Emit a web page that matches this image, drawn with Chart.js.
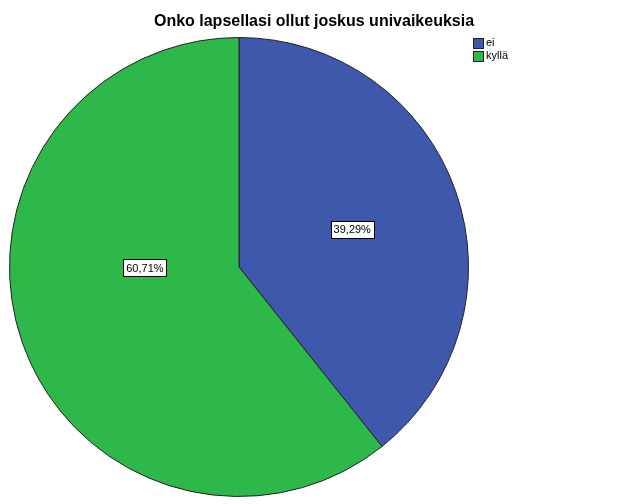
<!DOCTYPE html>
<html>
<head>
<meta charset="utf-8">
<script src="https://cdn.jsdelivr.net/npm/chart.js@4"></script>
<style>
  html, body { margin: 0; padding: 0; background: #fff; }
  #wrap { width: 629px; height: 504px; }
</style>
</head>
<body>
<div id="wrap"><canvas id="pieChart" width="629" height="504"></canvas></div>
<script>
const chartTitle = "Onko lapsellasi ollut joskus univaikeuksia";
const categories = ["ei", "kyllä"];
const percentages = [39.29, 60.71];
const sliceColors = ["#3e58ac", "#2fb84a"];

// where SPSS put the value boxes: angle (deg, 0 = right) and fraction of radius
const labelSpots = [
    { angle: -18.4, dist: 0.52 },
    { angle: 179.4, dist: 0.41 }
];

const fmt = v => v.toFixed(2).replace(".", ",") + "%";

const decorations = {
    id: "decorations",
    afterDraw(chart) {
        const ctx = chart.ctx;
        ctx.save();

        // title
        ctx.fillStyle = "#000";
        ctx.font = "bold 16px 'Liberation Sans', Arial, sans-serif";
        ctx.textAlign = "center";
        ctx.textBaseline = "middle";
        ctx.fillText(chartTitle, 314, 22);

        // legend
        ctx.font = "11px 'Liberation Sans', Arial, sans-serif";
        ctx.textAlign = "left";
        categories.forEach((name, i) => {
            const y = 38 + i * 13;
            ctx.fillStyle = sliceColors[i];
            ctx.fillRect(473, y, 10, 10);
            ctx.strokeStyle = "#222";
            ctx.lineWidth = 1;
            ctx.strokeRect(473.5, y + 0.5, 10, 10);
            ctx.fillStyle = "#000";
            ctx.fillText(name, 486, y + 5);
        });

        // value boxes
        const arcs = chart.getDatasetMeta(0).data;
        ctx.font = "11px 'Liberation Sans', Arial, sans-serif";
        ctx.textAlign = "center";
        arcs.forEach((arc, i) => {
            const a = labelSpots[i].angle * Math.PI / 180;
            const r = arc.outerRadius * labelSpots[i].dist;
            const x = arc.x + Math.cos(a) * r;
            const y = arc.y + Math.sin(a) * r;
            const txt = fmt(percentages[i]);
            const w = ctx.measureText(txt).width + 6;
            const h = 17;
            ctx.fillStyle = "#fff";
            ctx.fillRect(Math.round(x - w / 2), Math.round(y - h / 2), Math.round(w), h);
            ctx.strokeStyle = "#000";
            ctx.strokeRect(Math.round(x - w / 2) + 0.5, Math.round(y - h / 2) + 0.5, Math.round(w), h);
            ctx.fillStyle = "#000";
            ctx.fillText(txt, x, y + 1);
        });

        ctx.restore();
    }
};

new Chart(document.getElementById("pieChart"), {
    type: "pie",
    data: {
        labels: categories,
        datasets: [{
            data: percentages,
            backgroundColor: sliceColors,
            borderColor: "#222",
            borderWidth: 1
        }]
    },
    options: {
        responsive: false,
        animation: false,
        layout: { padding: { left: 9, right: 160, top: 37, bottom: 7 } },
        plugins: {
            legend: { display: false },
            tooltip: { enabled: false },
            title: { display: false }
        }
    },
    plugins: [decorations]
});
</script>
</body>
</html>
